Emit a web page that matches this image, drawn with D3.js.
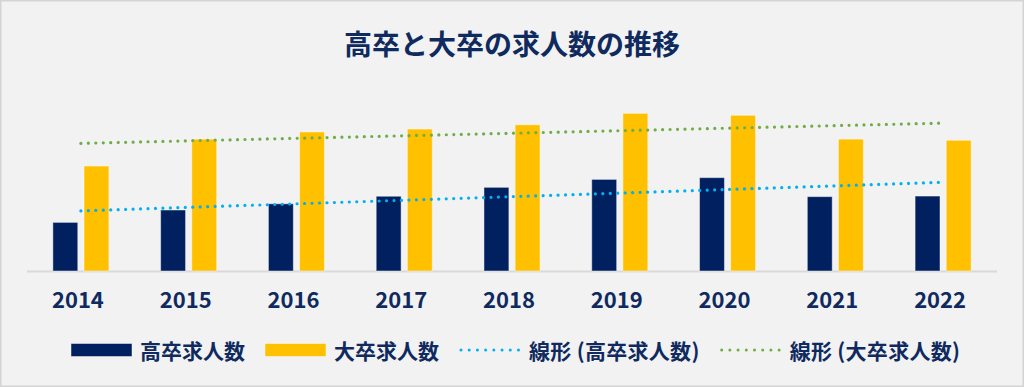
<!DOCTYPE html>
<html>
<head>
<meta charset="utf-8">
<script src="https://cdn.jsdelivr.net/npm/d3@7"></script>
<style>
  body { margin: 0; background: #f2f2f2; }
  text { font-family: "Noto Sans CJK JP", "Noto Sans", sans-serif; font-weight: bold; }
</style>
</head>
<body>
<div class="chart"></div>
<script>
// data (万人)
const years = ["2014", "2015", "2016", "2017", "2018", "2019", "2020", "2021", "2022"];
const highSchool = [25.1, 31.5, 34.7, 38.6, 43.2, 47.3, 48.2, 38.4, 38.7];
const university = [54.2, 68.1, 71.8, 73.3, 75.5, 81.4, 80.4, 68.1, 67.5];
const seriesNames = ["高卒求人数", "大卒求人数"];
const trendNames = ["線形 (高卒求人数)", "線形 (大卒求人数)"];
const title = "高卒と大卒の求人数の推移";

const width = 1024,
  height = 387;

const barColors = ["#002060", "#FFC000"];
const trendColors = ["#00B0F0", "#70AD47"];
const textColor = "#0f2a5e";

const svg = d3
  .select(".chart")
  .append("svg")
  .attr("width", width)
  .attr("height", height);

// background + frame
svg
  .append("rect")
  .attr("x", 0.75)
  .attr("y", 0.75)
  .attr("width", width - 1.5)
  .attr("height", height - 1.5)
  .attr("fill", "#f2f2f2")
  .attr("stroke", "#d4d4d4")
  .attr("stroke-width", 1.5);

svg
  .append("text")
  .attr("x", 512)
  .attr("y", 43)
  .attr("text-anchor", "middle")
  .attr("dominant-baseline", "central")
  .attr("fill", textColor)
  .style("font-size", "28px")
  .text(title);

// scales
const x0 = d3
  .scaleBand()
  .domain(years)
  .range([27, 997])
  .paddingInner(0.48)
  .paddingOuter(0.24);

const x1 = d3
  .scaleBand()
  .domain([0, 1])
  .range([0, x0.bandwidth()])
  .paddingInner(0.2);

const y = d3.scaleLinear().domain([0, 90]).range([271, 96.7]);

// baseline
svg
  .append("line")
  .attr("x1", 27)
  .attr("x2", 997)
  .attr("y1", 271.5)
  .attr("y2", 271.5)
  .attr("stroke", "#d9d9d9")
  .attr("stroke-width", 2);

// bars
const rows = years.map((yr, i) => ({ year: yr, values: [highSchool[i], university[i]] }));

const groups = svg
  .selectAll(".grp")
  .data(rows)
  .enter()
  .append("g")
  .attr("class", "grp")
  .attr("transform", d => "translate(" + x0(d.year) + ",0)");

groups
  .selectAll("rect")
  .data(d => d.values.map((v, k) => ({ v, k })))
  .enter()
  .append("rect")
  .attr("x", d => x1(d.k))
  .attr("y", d => y(d.v))
  .attr("width", x1.bandwidth())
  .attr("height", d => y(0) - y(d.v))
  .attr("fill", d => barColors[d.k])
  .attr("stroke", "rgba(255,255,255,0.45)")
  .attr("stroke-width", 1);

// year labels
svg
  .selectAll(".yr")
  .data(years)
  .enter()
  .append("text")
  .attr("class", "yr")
  .attr("x", d => x0(d) + x0.bandwidth() / 2 - 3)
  .attr("y", 307.5)
  .attr("text-anchor", "middle")
  .attr("fill", textColor)
  .style("font-size", "22px")
  .text(d => d);

// linear trend lines (least squares)
function trend(vals) {
  const n = vals.length;
  const xs = d3.range(n);
  const mx = d3.mean(xs),
    my = d3.mean(vals);
  const slope =
    d3.sum(xs, i => (i - mx) * (vals[i] - my)) / d3.sum(xs, i => (i - mx) * (i - mx));
  return [0, n - 1].map(i => ({ i, v: my + slope * (i - mx) }));
}

const cx = i => x0(years[i]) + x0.bandwidth() / 2;

const line = d3
  .line()
  .x(d => cx(d.i))
  .y(d => y(d.v));

[highSchool, university].forEach((vals, k) => {
  svg
    .append("path")
    .attr("d", line(trend(vals)))
    .attr("fill", "none")
    .attr("stroke", trendColors[k])
    .attr("stroke-width", 3.2)
    .attr("stroke-linecap", "round")
    .attr("stroke-dasharray", "0.01 7.45");
});

// legend
const legend = svg.append("g").attr("transform", "translate(71,350)");
const items = [
  { type: "bar", color: barColors[0], label: seriesNames[0] },
  { type: "bar", color: barColors[1], label: seriesNames[1] },
  { type: "dot", color: trendColors[0], label: trendNames[0] },
  { type: "dot", color: trendColors[1], label: trendNames[1] }
];

let lx = 0;
items.forEach(it => {
  let gap = 69;
  if (it.type === "bar") {
    legend
      .append("rect")
      .attr("x", lx)
      .attr("y", -6.5)
      .attr("width", 61)
      .attr("height", 13)
      .attr("fill", it.color)
      .attr("stroke", "rgba(255,255,255,0.45)");
  } else {
    gap = 70;
    legend
      .append("line")
      .attr("x1", lx + 2)
      .attr("x2", lx + 61)
      .attr("y1", 0)
      .attr("y2", 0)
      .attr("stroke", it.color)
      .attr("stroke-width", 3)
      .attr("stroke-linecap", "round")
      .attr("stroke-dasharray", "0.01 8.2");
  }
  const t = legend
    .append("text")
    .attr("x", lx + gap)
    .attr("y", 0)
    .attr("dominant-baseline", "central")
    .attr("fill", textColor)
    .style("font-size", "21px")
    .style("letter-spacing", it.type === "dot" ? "0.3px" : "0px")
    .text(it.label);
  lx += gap + t.node().getBBox().width + 20;
});
</script>
</body>
</html>
